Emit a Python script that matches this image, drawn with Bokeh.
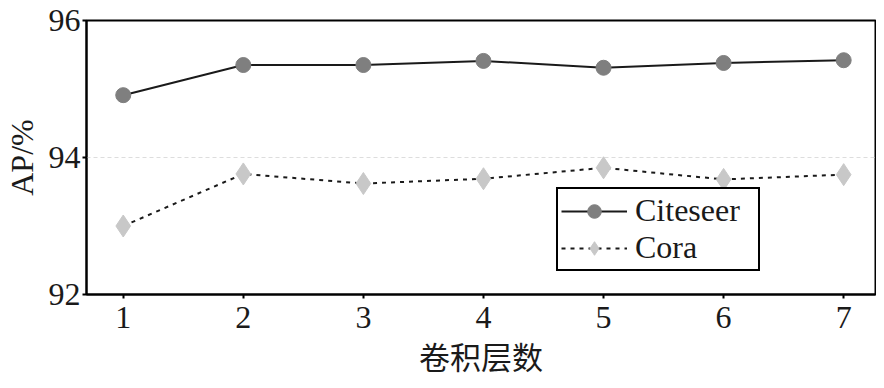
from bokeh.plotting import figure
from bokeh.models import ColumnDataSource, FixedTicker, Legend, LegendItem, Range1d
from bokeh.embed import file_html
from bokeh.resources import INLINE

layers = [1, 2, 3, 4, 5, 6, 7]
citeseer = [94.91, 95.35, 95.35, 95.41, 95.31, 95.38, 95.42]
cora = [93.00, 93.76, 93.62, 93.69, 93.85, 93.68, 93.75]
y_ticks = [92, 94, 96]

SERIF = "Liberation Serif"
CJK = "Noto Sans CJK SC"

p = figure(width=876, height=380, output_backend="svg", toolbar_location=None,
           x_range=Range1d(0.694, 7.265), y_range=Range1d(92, 96),
           min_border_left=10, min_border_right=1, min_border_top=20, min_border_bottom=0)

p.outline_line_color = "black"
p.outline_line_width = 2
p.outline_line_alpha = 1
p.background_fill_color = "white"
p.border_fill_color = "white"

p.xgrid.visible = False
p.ygrid.ticker = FixedTicker(ticks=[94])
p.ygrid.grid_line_color = "#dddddd"
p.ygrid.grid_line_dash = "4 3"
p.ygrid.grid_line_width = 1

p.xaxis.ticker = FixedTicker(ticks=layers)
p.yaxis.ticker = FixedTicker(ticks=y_ticks)
for ax in (p.xaxis[0], p.yaxis[0]):
    ax.axis_line_color = "black"
    ax.axis_line_width = 2
    ax.major_tick_line_color = "black"
    ax.major_tick_line_width = 2
    ax.major_tick_out = 4
    ax.major_tick_in = 0
    ax.minor_tick_line_color = None
    ax.major_label_text_font = SERIF
    ax.major_label_text_font_size = "32px"
    ax.major_label_text_color = "#1a1a1a"

p.xaxis.major_label_standoff = 8
p.yaxis.major_label_standoff = 2
p.xaxis.axis_label = "卷积层数"
p.xaxis.axis_label_text_font = CJK
p.xaxis.axis_label_text_font_size = "31px"
p.xaxis.axis_label_text_font_style = "normal"
p.xaxis.axis_label_text_color = "#1a1a1a"
p.xaxis.axis_label_standoff = 2
p.yaxis.axis_label = "AP/%"
p.yaxis.axis_label_text_font = SERIF
p.yaxis.axis_label_text_font_size = "32px"
p.yaxis.axis_label_text_font_style = "normal"
p.yaxis.axis_label_text_color = "#1a1a1a"
p.yaxis.axis_label_standoff = 6

src_c = ColumnDataSource(dict(x=layers, y=citeseer))
src_o = ColumnDataSource(dict(x=layers, y=cora))

l1 = p.line("x", "y", source=src_c, line_color="#1a1a1a", line_width=2)
m1 = p.scatter("x", "y", source=src_c, marker="circle", size=15,
               fill_color="#7f7f7f", line_color="#7f7f7f")
l2 = p.line("x", "y", source=src_o, line_color="#1a1a1a", line_width=2, line_dash="4 5")
m2 = p.scatter("x", "y", source=src_o, marker="diamond", size=22,
               fill_color="#c8c8c8", line_color="#c8c8c8")

legend = Legend(items=[LegendItem(label="Citeseer", renderers=[l1, m1]),
                       LegendItem(label="Cora", renderers=[l2, m2])],
                location=(470, 23))
legend.label_text_font = SERIF
legend.label_text_font_size = "32px"
legend.label_text_color = "#1a1a1a"
legend.border_line_color = "black"
legend.border_line_width = 2
legend.border_line_alpha = 1
legend.background_fill_alpha = 1
legend.glyph_width = 66
legend.glyph_height = 34
legend.label_standoff = 8
legend.label_width = 120
legend.spacing = 0
legend.padding = 3
legend.margin = 0
legend.label_height = 32
p.add_layout(legend, "center")

open("out.html", "w").write(file_html(p, INLINE))
